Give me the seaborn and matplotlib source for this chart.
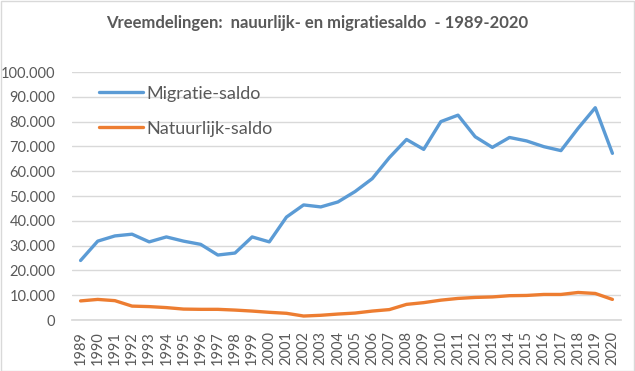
"""Vreemdelingen: natuurlijk- en migratiesaldo 1989-2020 (Excel-style line chart)."""

import matplotlib
matplotlib.use("Agg")
import matplotlib.pyplot as plt
from matplotlib.ticker import FuncFormatter, MultipleLocator
import pandas as pd
import seaborn as sns

years = list(range(1989, 2021))
migratie_saldo = [
    24000, 31800, 33900, 34600, 31500, 33500, 31800, 30500, 26200, 27000,
    33500, 31500, 41500, 46400, 45600, 47600, 51800, 57000, 65500, 72800,
    68800, 80000, 82600, 73900, 69600, 73600, 72200, 69900, 68300, 77300,
    85600, 67200,
]
natuurlijk_saldo = [
    7700, 8300, 7800, 5600, 5400, 5000, 4400, 4300, 4300, 4000,
    3600, 3100, 2700, 1600, 1900, 2400, 2800, 3600, 4200, 6300,
    7000, 8000, 8700, 9100, 9300, 9800, 9900, 10300, 10300, 11100,
    10700, 8300,
]
series_names = ["Migratie-saldo", "Natuurlijk-saldo"]

df = pd.DataFrame({
    "jaar": years * 2,
    "saldo": migratie_saldo + natuurlijk_saldo,
    "reeks": [series_names[0]] * len(years) + [series_names[1]] * len(years),
})

sns.set_theme(style="white")
plt.rcParams["font.family"] = ["Lato", "DejaVu Sans"]

grey = "#595959"
fig = plt.figure(figsize=(6.35, 3.71), dpi=100)
ax = fig.add_axes([72 / 635, (371 - 320) / 371, 549 / 635, 248 / 371])

sns.lineplot(
    data=df, x="jaar", y="saldo", hue="reeks",
    palette=["#5B9BD5", "#ED7D31"], linewidth=2.4, ax=ax,
)

ax.set_xlim(1988.5, 2020.5)
ax.set_ylim(0, 100000)
ax.yaxis.set_major_locator(MultipleLocator(10000))
ax.yaxis.set_major_formatter(
    FuncFormatter(lambda v, _: f"{int(v):,}".replace(",", "."))
)
ax.set_xticks(years)
ax.set_xticklabels([str(y) for y in years], rotation=90)
ax.tick_params(axis="x", colors=grey, labelsize=10.5, length=0, pad=8)
ax.tick_params(axis="y", colors=grey, labelsize=10.5, length=0, pad=12)
ax.grid(axis="y", color="#D9D9D9", linewidth=1)
ax.set_axisbelow(True)
for side in ["top", "right", "left"]:
    ax.spines[side].set_visible(False)
ax.spines["bottom"].set_color("#D9D9D9")
ax.set_xlabel("")
ax.set_ylabel("")

leg = ax.legend(
    loc="upper left", bbox_to_anchor=(0.02, 1.01), frameon=False,
    fontsize=13, labelspacing=1.05, handlelength=2.4, handletextpad=0.2,
)
for t in leg.get_texts():
    t.set_color(grey)

fig.text(
    0.5, 1 - 23 / 371, "Vreemdelingen:  nauurlijk- en migratiesaldo  - 1989-2020",
    ha="center", va="center", fontsize=12, fontweight="bold", color=grey,
)
fig.patches.append(plt.Rectangle(
    (0.001, 0.001), 0.997, 0.997, transform=fig.transFigure,
    fill=False, edgecolor="#D9D9D9", linewidth=1,
))

fig.savefig("out.png", dpi=100)
plt.close(fig)
